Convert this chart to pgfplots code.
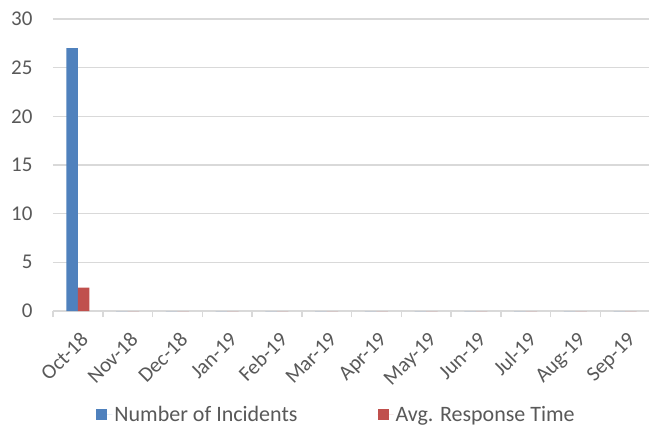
\documentclass[border=0pt]{standalone}
\usepackage{fontspec}
\setmainfont{Carlito}
\usepackage{pgfplots}
\pgfplotsset{compat=1.18}
\definecolor{incblue}{HTML}{4F81BD}
\definecolor{resred}{HTML}{C0504D}
\definecolor{txtgray}{HTML}{595959}
\definecolor{gridgray}{HTML}{D9D9D9}

\begin{document}
\begin{tikzpicture}
\begin{axis}[
    scale only axis,
    width=597pt, height=292pt,
    xmin=-0.5, xmax=11.5,
    ymin=0, ymax=30,
    ytick={0,5,...,30},
    xtick={0,...,11},
    xticklabels={Oct-18,Nov-18,Dec-18,Jan-19,Feb-19,Mar-19,Apr-19,May-19,Jun-19,Jul-19,Aug-19,Sep-19},
    minor xtick={-0.5,0.5,...,11.5},
    major tick length=0pt,
    minor tick length=6pt,
    tick align=outside,
    minor x tick style={draw=gridgray, line width=1.5pt},
    axis x line*=bottom, axis y line*=left,
    x axis line style={draw=gridgray, line width=2pt},
    y axis line style={draw=none},
    ymajorgrids,
    grid style={draw=gridgray, line width=1.2pt},
    /pgf/number format/assume math mode=true,
    tick label style={font=\fontsize{21}{24}\selectfont, text=txtgray},
    yticklabel style={xshift=-17pt},
    xticklabel style={rotate=45, anchor=north east, inner sep=0pt, xshift=-13pt, yshift=-15pt},
    ybar=0pt, bar width=11.5pt,
    legend columns=2,
    legend style={draw=none, at={(0.475,-0.356)}, anchor=center,
        font=\fontsize{22}{26}\selectfont, text=txtgray,
        /tikz/every even column/.append style={column sep=78pt}},
    legend image code/.code={\fill[#1] (0pt,-5.5pt) rectangle (11pt,5.5pt);
        \path (0pt,0pt) -- (16pt,0pt);},
]
\addplot[fill=incblue, draw=none] coordinates {
    (0,27) (1,0) (2,0) (3,0) (4,0) (5,0) (6,0) (7,0) (8,0) (9,0) (10,0) (11,0)
};
\addlegendentry{Number of Incidents}
\addplot[fill=resred, draw=none] coordinates {
    (0,2.4) (1,0) (2,0) (3,0) (4,0) (5,0) (6,0) (7,0) (8,0) (9,0) (10,0) (11,0)
};
\addlegendentry{Avg. Response Time}
\coordinate (bl) at (rel axis cs:0,0);
\coordinate (tr) at (rel axis cs:1,1);
\end{axis}
\pgfresetboundingbox
\path ([shift={(-53pt,-119pt)}]bl) rectangle ([shift={(-1pt,19pt)}]tr);
\end{tikzpicture}
\end{document}
